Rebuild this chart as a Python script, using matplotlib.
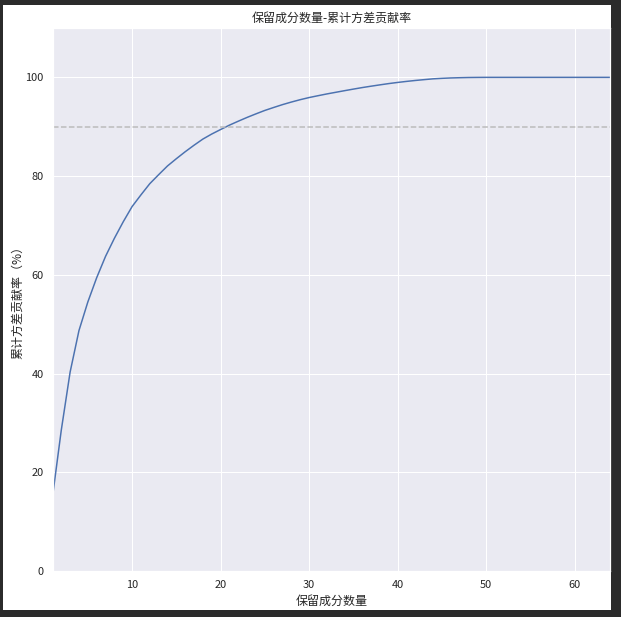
import matplotlib
matplotlib.use('Agg')
import matplotlib.pyplot as plt
import numpy as np
import seaborn as sns
from matplotlib.patches import Rectangle

# 累计方差贡献率 (%)
n_components = np.arange(1, 65)
cum_ratio = [
    14.89, 28.51, 40.30, 48.71, 54.49, 59.41, 63.73, 67.39, 70.74, 73.82,
    76.19, 78.46, 80.28, 82.05, 83.52, 84.93, 86.25, 87.50, 88.52, 89.43,
    90.32, 91.12, 91.89, 92.61, 93.30, 93.90, 94.48, 95.00, 95.48, 95.91,
    96.28, 96.64, 96.97, 97.30, 97.62, 97.93, 98.21, 98.48, 98.74, 98.97,
    99.18, 99.37, 99.54, 99.70, 99.80, 99.88, 99.93, 99.97, 99.99, 100.0,
    100.0, 100.0, 100.0, 100.0, 100.0, 100.0, 100.0, 100.0, 100.0, 100.0,
    100.0, 100.0, 100.0, 100.0,
]
threshold = 90

sns.set_theme(style='darkgrid')
plt.rcParams['font.family'] = ['Noto Sans CJK SC', 'DejaVu Sans']
plt.rcParams['axes.unicode_minus'] = False

fig = plt.figure(figsize=(621 / 72, 617 / 72), dpi=72)
fig.patch.set_facecolor('#2b2b2b')
# 截图里的白色画布
fig.patches.append(Rectangle((3 / 621, 7 / 617), 608 / 621, 605 / 617,
                             transform=fig.transFigure, facecolor='white',
                             edgecolor='none', zorder=-10))

ax = fig.add_axes([53.3 / 621, 1 - 571 / 617, (610 - 53.3) / 621, (571 - 28) / 617])
ax.plot(n_components, cum_ratio, color='#4c72b0', linewidth=1.5)
ax.axhline(threshold, color='#bbbbbb', linestyle='--', linewidth=1.5)

ax.set_xlim(1.1, 64)
ax.set_ylim(0, 110)
ax.set_title('保留成分数量-累计方差贡献率', fontsize=12)
ax.set_xlabel('保留成分数量', fontsize=12)
ax.set_ylabel('累计方差贡献率（%）', fontsize=12, labelpad=1)

fig.savefig('out.png', dpi=72, facecolor=fig.get_facecolor())
